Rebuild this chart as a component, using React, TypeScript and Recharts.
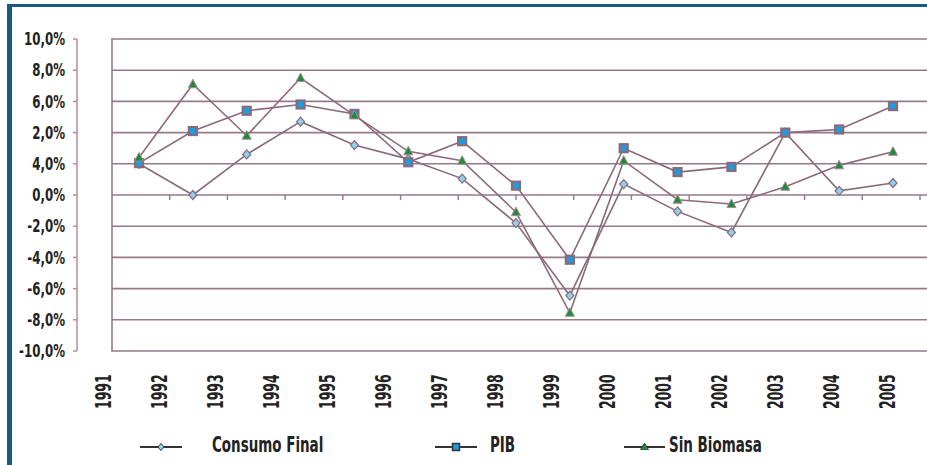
import React from 'react';
import { LineChart, Line, XAxis, YAxis, ReferenceLine, ReferenceArea, Legend } from 'recharts';

const years = ['1991', '1992', '1993', '1994', '1995', '1996', '1997', '1998', '1999', '2000', '2001', '2002', '2003', '2004', '2005'];
const consumoFinal = [2.0, 0.0, 2.6, 4.7, 3.2, 2.3, 1.05, -1.8, -6.45, 0.7, -1.05, -2.4, 4.0, 0.27, 0.77];
const pib = [2.04, 4.1, 5.4, 5.8, 5.2, 2.1, 3.45, 0.6, -4.15, 3.0, 1.47, 1.8, 4.0, 4.2, 5.7];
const sinBiomasa = [2.4, 7.1, 3.8, 7.5, 5.1, 2.8, 2.2, -1.1, -7.55, 2.2, -0.3, -0.58, 0.53, 1.9, 2.77];

const yTicks = [-10, -8, -6, -4, -2, 0, 2, 4, 6, 8, 10];
// labels as printed in the original (2 and 4 are swapped there)
const yTickLabels = ['-10,0%', '-8,0%', '-6,0%', '-4,0%', '-2,0%', '0,0%', '4,0%', '2,0%', '6,0%', '8,0%', '10,0%'];
const gridValues = [-8, -6, -4, -2, 0, 2, 4, 6, 8];
const seriesNames = ['Consumo Final', 'PIB', 'Sin Biomasa'];

const data = years.map((year, i) => ({
  year,
  consumo: consumoFinal[i],
  pib: pib[i],
  sinBiomasa: sinBiomasa[i],
}));
const boundaries = years.slice(1).map((_, i) => i + 1);

const LINE = '#8a6a7a';
const GRID = '#977a88';
const FONT = '"DejaVu Sans Condensed", "DejaVu Sans", sans-serif';

const Diamond = (props: any) => {
  const { cx, cy } = props;
  if (cx == null || cy == null) return null;
  return (
    <path
      d={`M${cx},${cy - 4.5} L${cx + 4},${cy} L${cx},${cy + 4.5} L${cx - 4},${cy} Z`}
      fill="#8fd0f0"
      stroke={LINE}
      strokeWidth={1.2}
    />
  );
};

const Square = (props: any) => {
  const { cx, cy } = props;
  if (cx == null || cy == null) return null;
  return <rect x={cx - 4} y={cy - 4} width={8} height={8} fill="#1b9de0" stroke={LINE} strokeWidth={2.2} />;
};

const Triangle = (props: any) => {
  const { cx, cy } = props;
  if (cx == null || cy == null) return null;
  return (
    <path
      d={`M${cx},${cy - 5} L${cx + 4.5},${cy + 3.5} L${cx - 4.5},${cy + 3.5} Z`}
      fill="#1e8c3a"
      stroke="#a88898"
      strokeWidth={1}
    />
  );
};

const YearTick = (props: any) => {
  const { x, y, payload } = props;
  return (
    <text
      transform={`translate(${x},${y + 20}) rotate(-90) scale(0.63,1)`}
      textAnchor="start"
      dominantBaseline="central"
      fontFamily={FONT}
      fontWeight="bold"
      fontSize={22}
      fill="#222"
    >
      {payload.value}
    </text>
  );
};

const YTick = (props: any) => {
  const { x, y, payload } = props;
  const idx = yTicks.indexOf(payload.value);
  return (
    <text
      transform={`translate(${x},${y}) scale(0.73,1)`}
      textAnchor="end"
      dominantBaseline="central"
      fontFamily={FONT}
      fontWeight="bold"
      fontSize={18}
      fill="#222"
    >
      {yTickLabels[idx]}
    </text>
  );
};

const LegendContent = () => {
  const items = [
    { x1: 140, x2: 182, tx: 212, marker: 'diamond' },
    { x1: 435, x2: 477, tx: 490, marker: 'square' },
    { x1: 624, x2: 665, tx: 669, marker: 'triangle' },
  ];
  return (
    <svg width={927} height={44} style={{ display: 'block' }}>
      {items.map((it, i) => {
        const cx = (it.x1 + it.x2) / 2;
        const cy = 26;
        return (
          <g key={seriesNames[i]}>
            <line x1={it.x1} x2={it.x2} y1={cy} y2={cy} stroke="#333" strokeWidth={2} />
            {it.marker === 'diamond' && (
              <path d={`M${cx},${cy - 3.5} L${cx + 3},${cy} L${cx},${cy + 3.5} L${cx - 3},${cy} Z`} fill="#8fd0f0" stroke="#333" strokeWidth={1} />
            )}
            {it.marker === 'square' && <rect x={cx - 3.5} y={cy - 3.5} width={7} height={7} fill="#1b9de0" stroke="#333" strokeWidth={1.5} />}
            {it.marker === 'triangle' && (
              <path d={`M${cx},${cy - 4} L${cx + 4},${cy + 2.5} L${cx - 4},${cy + 2.5} Z`} fill="#1e8c3a" stroke="#333" strokeWidth={0.8} />
            )}
            <text transform={`translate(${it.tx},31) scale(0.68,1)`} fontFamily={FONT} fontWeight="bold" fontSize={22} fill="#222">
              {seriesNames[i]}
            </text>
          </g>
        );
      })}
    </svg>
  );
};

export default function App() {
  return (
    <div style={{ position: 'absolute', left: 0, top: 0, width: 927, height: 465, background: '#fff', overflow: 'hidden' }}>
      <div style={{ position: 'absolute', left: 7, top: 4, width: 920, height: 3, background: '#1a5a82' }} />
      <div style={{ position: 'absolute', left: 7, top: 4, width: 5, height: 461, background: '#1a5a82' }} />
      <LineChart width={927} height={465} data={data} margin={{ top: 39, right: 7, left: 0, bottom: 0 }}>
        <XAxis xAxisId="data" dataKey="year" hide padding={{ left: 62, right: 27 }} />
        <XAxis xAxisId="num" type="number" domain={[0, 15]} hide padding={{ left: 35, right: 0 }} />
        <XAxis
          xAxisId="lbl"
          dataKey="year"
          height={70}
          axisLine={false}
          tickLine={false}
          interval={0}
          padding={{ left: 26, right: 33 }}
          tick={<YearTick />}
        />
        <YAxis
          domain={[-10, 10]}
          ticks={yTicks}
          width={77}
          interval={0}
          axisLine={{ stroke: '#b38f9f', strokeWidth: 1.5 }}
          tickLine={{ stroke: '#b38f9f', strokeWidth: 1.5 }}
          tickSize={4}
          tickMargin={8}
          tick={<YTick />}
        />
        <ReferenceArea
          xAxisId="num"
          x1={0}
          x2={15}
          y1={-10}
          y2={10}
          ifOverflow="visible"
          fill="none"
          fillOpacity={0}
          stroke={GRID}
          strokeWidth={1.6}
        />
        {gridValues.map((v) => (
          <ReferenceLine
            key={`g${v}`}
            xAxisId="num"
            ifOverflow="visible"
            segment={[{ x: 0, y: v }, { x: 15, y: v }]}
            stroke={GRID}
            strokeWidth={1.6}
          />
        ))}
        {boundaries.map((b) => (
          <ReferenceLine
            key={`t${b}`}
            xAxisId="num"
            ifOverflow="visible"
            segment={[{ x: b, y: 0 }, { x: b, y: -0.32 }]}
            stroke={GRID}
            strokeWidth={1.4}
          />
        ))}
        <Line xAxisId="data" dataKey="consumo" name={seriesNames[0]} stroke={LINE} strokeWidth={1.6} dot={<Diamond />} isAnimationActive={false} />
        <Line xAxisId="data" dataKey="pib" name={seriesNames[1]} stroke={LINE} strokeWidth={1.6} dot={<Square />} isAnimationActive={false} />
        <Line xAxisId="data" dataKey="sinBiomasa" name={seriesNames[2]} stroke={LINE} strokeWidth={1.6} dot={<Triangle />} isAnimationActive={false} />
        <Legend verticalAlign="bottom" height={44} wrapperStyle={{ left: 0, width: 927 }} content={<LegendContent />} />
      </LineChart>
    </div>
  );
}
